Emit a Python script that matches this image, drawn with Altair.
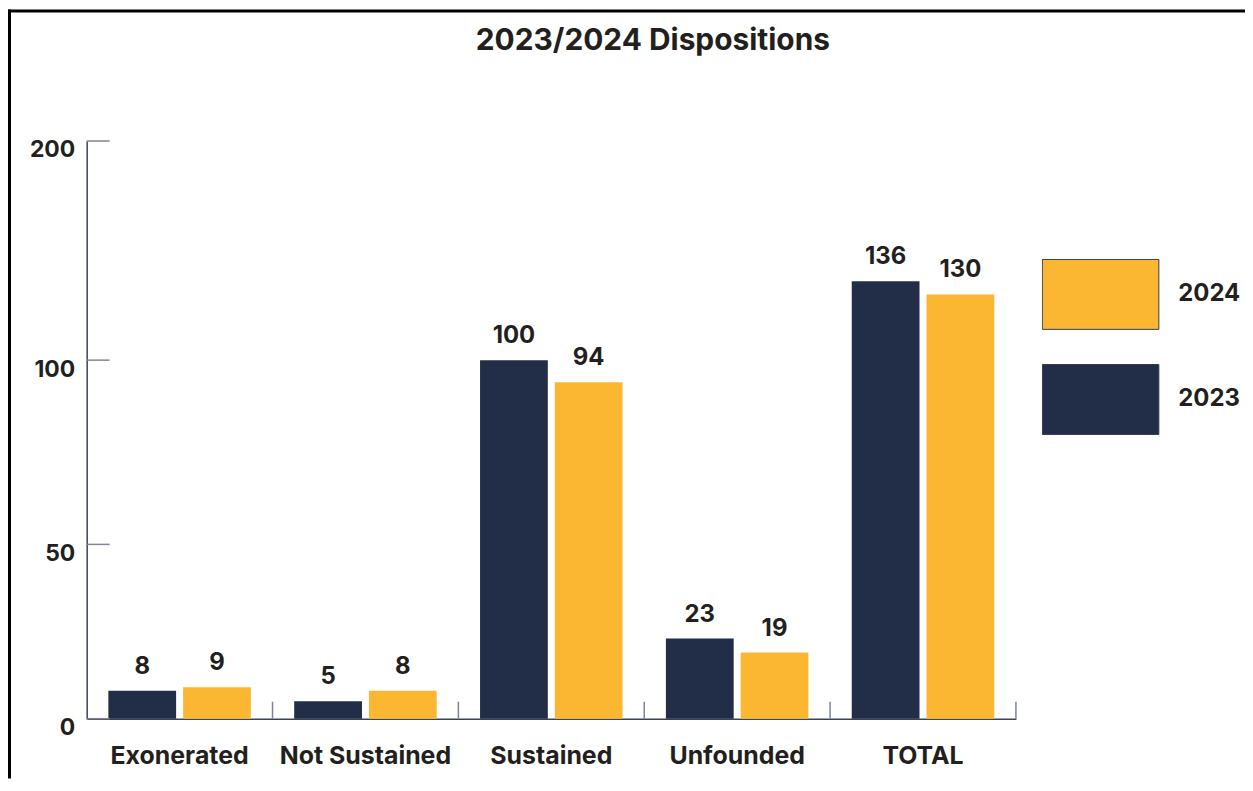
import altair as alt
import pandas as pd

# ---- data ----
categories = ["Exonerated", "Not Sustained", "Sustained", "Unfounded", "TOTAL"]
values_2023 = [8, 5, 100, 23, 136]
values_2024 = [9, 8, 94, 19, 130]
years = ["2023", "2024"]
y_tick_values = [0, 50, 100, 200]

rows = []
for c, a, b in zip(categories, values_2023, values_2024):
    rows.append({"category": c, "year": "2023", "count": a})
    rows.append({"category": c, "year": "2024", "count": b})
df = pd.DataFrame(rows)
ticks_df = pd.DataFrame({"v": y_tick_values})
cat_df = pd.DataFrame({"category": categories})
one_df = pd.DataFrame({"k": [0]})

# ---- style ----
W, H = 933, 580
NAVY = "#222d48"
ORANGE = "#fbb731"
TEXT = "#231f20"
AXIS = "#3b4357"
TICK = "#7d8496"
FONT = "Inter"

x_scale = alt.Scale(domain=categories, paddingInner=0, paddingOuter=0)
y_scale = alt.Scale(domain=[0, 50, 100, 200], range=[580, 405, 220, 0], nice=False)
xoff_scale = alt.Scale(paddingInner=0.0933, paddingOuter=0.29)

x_axis = alt.Axis(title=None, labelAngle=0, ticks=False, domainColor=AXIS, domainWidth=1.5,
                  labelFont=FONT, labelFontSize=25, labelFontWeight="bold", labelColor=TEXT,
                  labelPadding=25, grid=False)
y_axis = alt.Axis(title=None, values=y_tick_values, ticks=False, domainColor=AXIS, domainWidth=1.5,
                  labelFont=FONT, labelFontSize=23, labelFontWeight="bold", labelColor=TEXT,
                  labelAlign="right", labelBaseline="top", labelPadding=12, labelFlush=False,
                  labelOffset=-2, labelOverlap=False, grid=False)

legend = alt.Legend(title=None, orient="none", legendX=959, legendY=118,
                    symbolType="M-1,-0.6H1V0.6H-1Z", symbolSize=13689, clipHeight=72,
                    rowPadding=33.5, symbolStrokeColor="#2f3a4f", symbolStrokeWidth=1,
                    symbolOpacity=1, labelFont=FONT, labelFontSize=24, labelFontWeight="bold",
                    labelColor=TEXT, labelOffset=19)

base = alt.Chart(df).encode(
    x=alt.X("category:N", scale=x_scale, sort=categories, axis=x_axis),
    xOffset=alt.XOffset("year:N", sort=years, scale=xoff_scale),
    y=alt.Y("count:Q", scale=y_scale, axis=y_axis),
)

bars = base.mark_bar().encode(
    color=alt.Color("year:N", scale=alt.Scale(domain=["2024", "2023"], range=[ORANGE, NAVY]),
                    legend=legend)
)

labels = base.mark_text(dy=-12, baseline="bottom", font=FONT, fontSize=24,
                        fontWeight="bold", color=TEXT).encode(text="count:Q")

y_ticks = alt.Chart(ticks_df).mark_rule(color=TICK, strokeWidth=1.5).encode(
    y=alt.Y("v:Q", scale=y_scale, axis=y_axis),
    x=alt.value(0), x2=alt.value(23),
)

x_ticks = alt.Chart(cat_df).mark_rule(color=TICK, strokeWidth=1.5).encode(
    x=alt.X("category:N", scale=x_scale, sort=categories, bandPosition=1, axis=x_axis),
    y=alt.value(563), y2=alt.value(580),
)

border_top = alt.Chart(one_df).mark_rule(color="#000000", strokeWidth=3).encode(
    x=alt.value(-79), x2=alt.value(W + 230), y=alt.value(-130.5)
)
border_left = alt.Chart(one_df).mark_rule(color="#000000", strokeWidth=3).encode(
    x=alt.value(-77.5), y=alt.value(-132), y2=alt.value(H + 60)
)

chart = alt.layer(border_top, border_left, bars, labels, y_ticks, x_ticks).properties(
    width=W, height=H,
    autosize="none",
    padding={"left": 79, "top": 132, "right": 230, "bottom": 60},
    title=alt.TitleParams(text="2023/2024 Dispositions", font=FONT, fontSize=30,
                          fontWeight="bold", color=TEXT, anchor="middle", dx=102,
                          baseline="alphabetic", offset=-72),
).configure_view(stroke=None)

chart.save("out.html", embed_options={"renderer": "svg", "actions": False})
